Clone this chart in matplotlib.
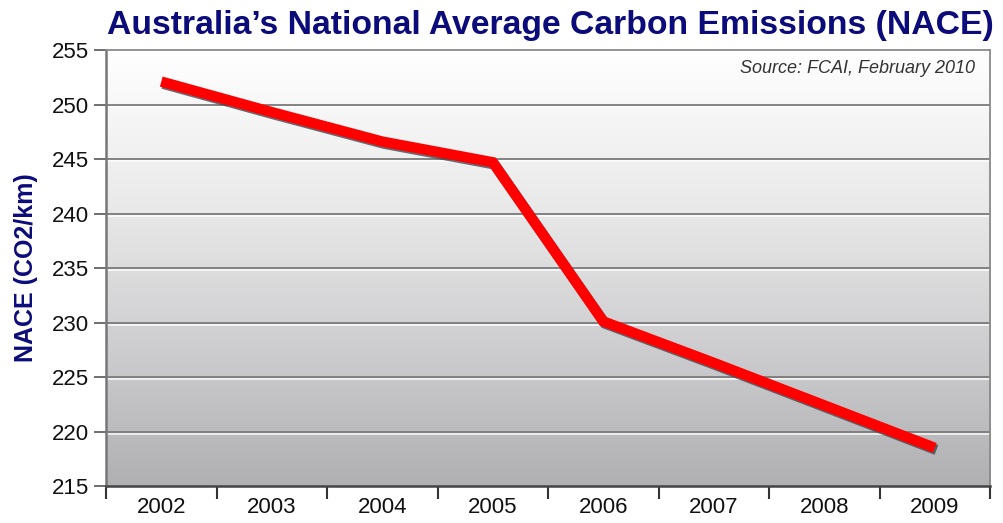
import numpy as np
import matplotlib
matplotlib.use('Agg')
import matplotlib.pyplot as plt
import matplotlib.patheffects as pe

# NACE values by year (g CO2/km)
years = ['2002', '2003', '2004', '2005', '2006', '2007', '2008', '2009']
nace = [252.1, 249.3, 246.6, 244.7, 230.1, 226.3, 222.4, 218.5]
y_ticks = [215, 220, 225, 230, 235, 240, 245, 250, 255]

plt.rcParams['font.family'] = ['Liberation Sans', 'DejaVu Sans']

fig = plt.figure(figsize=(10.04, 5.23), dpi=100)
ax = fig.add_axes([0.1056, 0.0707, 0.8805, 0.8337])

x = np.arange(len(years))
ax.set_xlim(-0.5, len(years) - 0.5)
ax.set_ylim(y_ticks[0], y_ticks[-1])

# vertical gradient background, white at top to grey at bottom
grad = np.linspace(0, 1, 256).reshape(-1, 1)
cmap = matplotlib.colors.LinearSegmentedColormap.from_list(
    'bg', ['#ffffff', '#ebebeb', '#cfcfd1', '#b0b0b3'])
ax.imshow(grad, cmap=cmap, aspect='auto', origin='upper',
          extent=[-0.5, len(years) - 0.5, y_ticks[0], y_ticks[-1]], zorder=0)

# horizontal grid lines with a faint highlight beneath
for t in y_ticks[1:-1]:
    ax.axhline(t, color='#7a7a7a', lw=1.3, zorder=1.5,
               path_effects=[pe.SimpleLineShadow(offset=(0, -1.5), shadow_color='white', alpha=0.8),
                             pe.Normal()])

ax.plot(x, nace, color='#ff0000', lw=7.5, solid_capstyle='butt',
        solid_joinstyle='miter', zorder=3,
        path_effects=[pe.SimpleLineShadow(offset=(1.2, -1.5), shadow_color='#404850', alpha=0.8),
                      pe.Normal()])

# ticks
ax.set_yticks(y_ticks)
ax.set_yticklabels([str(t) for t in y_ticks], fontsize=16, color='#111111')
ax.tick_params(axis='y', length=9, width=1.2, color='#555555', pad=3)

ax.set_xticks(np.arange(-0.5, len(years), 1.0))
ax.set_xticklabels([])
ax.tick_params(axis='x', which='major', length=9, width=1.5, color='#333333', direction='out')
ax.set_xticks(x, minor=True)
ax.set_xticklabels(years, minor=True, fontsize=16, color='#111111')
ax.tick_params(axis='x', which='minor', length=0, pad=8)

for side in ['top', 'right']:
    ax.spines[side].set_color('#8a8a8a')
    ax.spines[side].set_linewidth(1.3)
ax.spines['left'].set_color('#777777')
ax.spines['left'].set_linewidth(1.8)
ax.spines['bottom'].set_color('#444444')
ax.spines['bottom'].set_linewidth(1.8)

ax.set_ylabel('NACE (CO2/km)', fontsize=18, fontweight='bold', color='#0b0b7a', labelpad=10)

fig.text(0.548, 0.952, 'Australia\u2019s National Average Carbon Emissions (NACE)',
         ha='center', va='center', fontsize=24.3, fontweight='bold', color='#0b0b7a')

ax.text(0.983, 0.977, 'Source: FCAI, February 2010', transform=ax.transAxes,
        ha='right', va='top', fontsize=13, style='italic', color='#333333', zorder=4)

fig.savefig('out.png', dpi=100)
